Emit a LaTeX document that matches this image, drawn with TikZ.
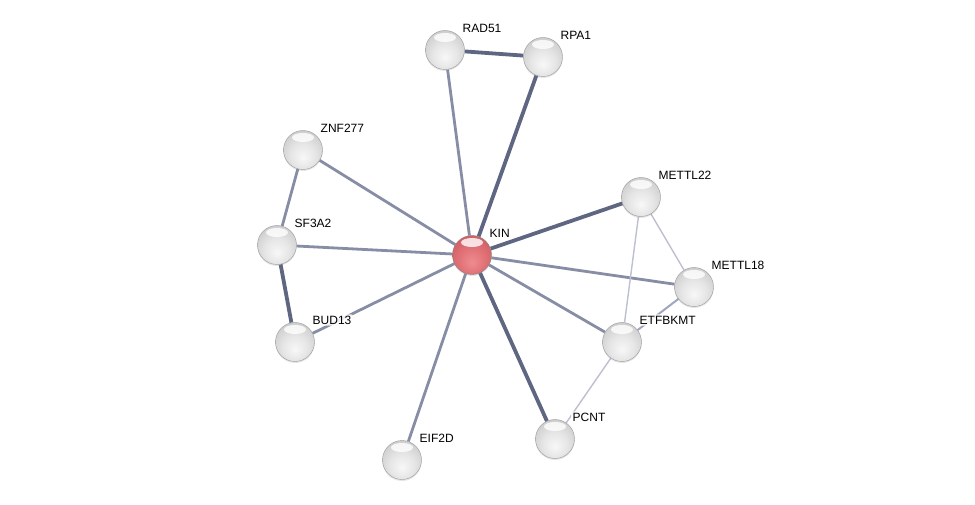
\documentclass[tikz,border=0pt]{standalone}
\usepackage{fontspec}
\setmainfont{Liberation Sans}
\usetikzlibrary{positioning,calc,shadows,backgrounds}

\definecolor{edgedark}{RGB}{95,102,130}
\definecolor{edgemid}{RGB}{135,141,165}
\definecolor{edgesoft}{RGB}{160,166,189}
\definecolor{edgelight}{RGB}{188,192,208}

% glossy balls
\pgfdeclareradialshading{greyball}{\pgfpoint{0bp}{-10bp}}{%
  color(0bp)=(black!3); color(16bp)=(black!10); color(28bp)=(black!18);
  color(38bp)=(black!28); color(45bp)=(black!45); color(50bp)=(black!62); color(60bp)=(black!70)}
\pgfdeclareradialshading{redball}{\pgfpoint{0bp}{-10bp}}{%
  color(0bp)=(rgb,255:red,238;green,140;blue,145); color(16bp)=(rgb,255:red,225;green,115;blue,120);
  color(28bp)=(rgb,255:red,212;green,98;blue,104); color(38bp)=(rgb,255:red,195;green,80;blue,86);
  color(45bp)=(rgb,255:red,165;green,58;blue,63); color(50bp)=(rgb,255:red,135;green,42;blue,48);
  color(60bp)=(rgb,255:red,120;green,35;blue,40)}

\begin{document}
\begin{tikzpicture}[
    x=1pt, y=-1pt,
    protein/.style={circle, minimum size=39pt, inner sep=0pt, draw=black!40, thin,
        shading=greyball,
        drop shadow={opacity=0.2, shadow xshift=0pt, shadow yshift=-1.5pt},
        path picture={\fill[white, opacity=0.8]
            ($(path picture bounding box.north)+(0,-7pt)$) ellipse (11pt and 4.5pt);}},
    query/.style={protein, shading=redball, draw=black!50},
    plabel/.style={anchor=west, inner sep=1.5pt, rounded corners=2pt, fill=white,
        fill opacity=0.85, text opacity=1, font=\fontsize{12}{12}\selectfont},
    strong/.style={edgedark, line width=3.8pt},
    medium/.style={edgemid, line width=2.8pt},
    soft/.style={edgesoft, line width=2pt},
    faint/.style={edgelight, line width=1.4pt}
]
\useasboundingbox (0,0) rectangle (975,505);

% Query protein
\node[query] (KIN) at (472,255) {};

% Interaction partners
\node[protein] (RAD51) at (445,50) {};
\node[protein] (RPA1) at (543,57) {};
\node[protein] (ZNF277) at (303,150) {};
\node[protein] (SF3A2) at (277,245) {};
\node[protein] (BUD13) at (295,342) {};
\node[protein] (EIF2D) at (402,460) {};
\node[protein] (PCNT) at (555,439) {};
\node[protein] (ETFBKMT) at (622,342) {};
\node[protein] (METTL18) at (694,287) {};
\node[protein] (METTL22) at (641,197) {};

% Labels (upper right of each ball)
\foreach \p in {KIN,RAD51,RPA1,ZNF277,SF3A2,BUD13,EIF2D,PCNT,ETFBKMT,METTL18,METTL22} {
    \node[plabel] (\p-lab) at ($(\p)+(16,-22)$) {\p};
}

% Edges behind the balls
\begin{pgfonlayer}{background}
\foreach \a/\b in {RAD51/RPA1, RPA1/KIN, METTL22/KIN, SF3A2/BUD13, PCNT/KIN}
    \draw[strong] (\a) -- (\b);
\foreach \a/\b in {RAD51/KIN, ZNF277/KIN, ZNF277/SF3A2, SF3A2/KIN, BUD13/KIN,
                   EIF2D/KIN, ETFBKMT/KIN, METTL18/KIN}
    \draw[medium] (\a) -- (\b);
\draw[soft] (ETFBKMT) -- (METTL18);
\foreach \a/\b in {ETFBKMT/METTL22, METTL18/METTL22, PCNT/ETFBKMT}
    \draw[faint] (\a) -- (\b);
\end{pgfonlayer}

\end{tikzpicture}
\end{document}
